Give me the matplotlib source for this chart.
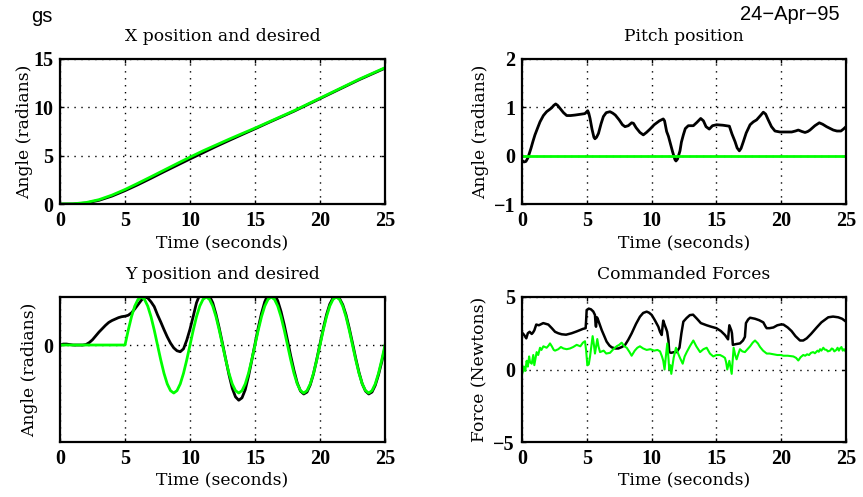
import numpy as np
import matplotlib
matplotlib.use("Agg")
import matplotlib.pyplot as plt

# ---------------- data ----------------
# X position (1 s samples)
x_t = list(range(0, 26))
x_desired = [0.0, 0.02, 0.15, 0.45, 0.92, 1.5, 2.15, 2.82, 3.5, 4.18, 4.85, 5.5, 6.1, 6.7,
             7.28, 7.85, 8.45, 9.05, 9.65, 10.3, 10.95, 11.6, 12.25, 12.9, 13.5, 14.1]
x_actual = [0.0, 0.0, 0.1, 0.38, 0.82, 1.38, 2.0, 2.66, 3.34, 4.0, 4.66, 5.3, 5.95, 6.57,
            7.18, 7.78, 8.4, 9.0, 9.6, 10.25, 10.9, 11.55, 12.2, 12.85, 13.45, 14.05]

# Pitch position
pitch_t = [0.0, 0.15, 0.3, 0.45, 0.69, 0.85, 1.0, 1.2, 1.39, 1.65, 1.9, 2.1, 2.29, 2.45,
           2.6, 2.75, 2.93, 3.2, 3.45, 3.75, 4.09, 4.6, 4.85, 5.0, 5.07, 5.15, 5.25, 5.4,
           5.55, 5.63, 5.75, 5.9, 6.1, 6.28, 6.5, 6.79, 7.0, 7.2, 7.5, 7.75, 7.95, 8.2,
           8.46, 8.6, 8.8, 9.1, 9.36, 9.6, 9.88, 10.2, 10.6, 10.9, 11.0, 11.16, 11.3,
           11.42, 11.62, 11.8, 11.88, 12.0, 12.19, 12.3, 12.45, 12.6, 12.83, 13.22, 13.5,
           13.79, 14.0, 14.2, 14.45, 14.7, 15.02, 15.5, 16.0, 16.2, 16.44, 16.6, 16.77,
           16.9, 17.08, 17.3, 17.6, 17.85, 18.1, 18.4, 18.62, 18.8, 19.0, 19.25, 19.52,
           19.9, 20.4, 20.81, 21.1, 21.32, 21.6, 21.84, 22.05, 22.22, 22.6, 22.94, 23.2,
           23.5, 24.02, 24.3, 24.61, 24.8, 25.0]
pitch_v = [-0.1, -0.13, -0.12, -0.05, 0.15, 0.3, 0.43, 0.57, 0.70, 0.83, 0.91, 0.95, 0.99,
           1.04, 1.07, 1.04, 0.98, 0.89, 0.83, 0.83, 0.84, 0.86, 0.87, 0.91, 0.93, 0.88,
           0.77, 0.55, 0.38, 0.35, 0.38, 0.46, 0.66, 0.81, 0.89, 0.91, 0.88, 0.84, 0.74,
           0.64, 0.60, 0.62, 0.68, 0.67, 0.58, 0.48, 0.43, 0.48, 0.55, 0.64, 0.72, 0.76,
           0.72, 0.50, 0.40, 0.28, 0.08, -0.08, -0.11, -0.07, 0.10, 0.28, 0.43, 0.56,
           0.62, 0.62, 0.69, 0.77, 0.72, 0.60, 0.55, 0.62, 0.64, 0.63, 0.61, 0.45, 0.29,
           0.16, 0.10, 0.15, 0.29, 0.47, 0.64, 0.70, 0.74, 0.83, 0.90, 0.86, 0.74, 0.60,
           0.51, 0.49, 0.49, 0.49, 0.51, 0.53, 0.50, 0.48, 0.50, 0.53, 0.62, 0.68, 0.65,
           0.60, 0.53, 0.51, 0.51, 0.55, 0.60]
pitch_desired = [0.0, 0.0]
pitch_desired_t = [0.0, 25.0]

# Y position (0.25 s samples)
y_t = [i * 0.25 for i in range(101)]
y_desired = [0.0] * 20 + [
    0.0, 0.31, 0.59, 0.81, 0.95, 1.0, 0.95, 0.81, 0.59, 0.31,
    0.0, -0.31, -0.59, -0.81, -0.95, -1.0, -0.95, -0.81, -0.59, -0.31] * 4 + [0.0]
y_actual = [0.0, 0.02, 0.02, 0.01, 0.0, 0.0, 0.0, 0.0,
            0.01, 0.05, 0.11, 0.19, 0.27, 0.34, 0.41, 0.47,
            0.51, 0.54, 0.57, 0.59, 0.60, 0.62, 0.67, 0.75,
            0.84, 0.93, 1.0, 0.98, 0.90, 0.80, 0.63, 0.48,
            0.32, 0.17, 0.04, -0.06, -0.12, -0.14, -0.08, 0.10,
            0.33, 0.60, 0.88, 1.05, 1.1, 1.1, 1.02, 0.88,
            0.64, 0.35, 0.03, -0.30, -0.62, -0.90, -1.08, -1.15,
            -1.10, -0.93, -0.65, -0.32, 0.02, 0.36, 0.66, 0.90,
            1.05, 1.1, 1.06, 0.92, 0.70, 0.42, 0.10, -0.23,
            -0.53, -0.79, -0.96, -1.02, -0.98, -0.83, -0.60, -0.30,
            0.02, 0.34, 0.63, 0.85, 0.98, 1.0, 0.97, 0.84,
            0.63, 0.35, 0.04, -0.28, -0.57, -0.81, -0.96, -1.02,
            -0.98, -0.84, -0.62, -0.35, -0.05]

# Commanded forces
f1_t = [0.0, 0.15, 0.33, 0.45, 0.59, 0.75, 0.85, 0.95, 1.1, 1.3, 1.64, 2.03, 2.3, 2.55,
        2.8, 3.06, 3.4, 3.83, 4.2, 4.48, 4.7, 4.91, 4.95, 4.99, 5.15, 5.32, 5.5, 5.63,
        5.68, 5.71, 5.78, 5.84, 6.0, 6.15, 6.35, 6.53, 6.75, 6.92, 7.2, 7.43, 7.7, 7.95,
        8.2, 8.46, 8.8, 9.1, 9.35, 9.62, 9.8, 10.01, 10.25, 10.52, 10.65, 10.78, 10.85,
        10.9, 11.0, 11.11, 11.2, 11.3, 11.36, 11.5, 11.75, 11.93, 12.15, 12.3, 12.45,
        12.7, 12.95, 13.2, 13.5, 13.8, 14.25, 14.6, 15.0, 15.35, 15.66, 15.9, 15.95,
        16.0, 16.15, 16.2, 16.27, 16.5, 16.82, 17.05, 17.2, 17.28, 17.45, 17.6, 17.98,
        18.3, 18.62, 18.8, 18.88, 19.1, 19.4, 19.7, 19.95, 20.17, 20.5, 20.8, 21.1,
        21.45, 21.7, 21.97, 22.3, 22.74, 23.1, 23.63, 24.0, 24.4, 24.7, 25.0]
f1_v = [2.55, 2.4, 2.15, 2.5, 2.6, 2.45, 2.55, 2.7, 3.1, 3.05, 3.2, 3.1, 2.85, 2.6,
        2.5, 2.43, 2.4, 2.5, 2.62, 2.72, 2.8, 2.85, 3.4, 4.1, 4.2, 4.15, 4.0, 3.76,
        3.1, 2.95, 3.6, 3.5, 3.1, 2.72, 2.3, 1.92, 1.65, 1.53, 1.45, 1.45, 1.55, 1.69,
        2.05, 2.49, 3.15, 3.64, 3.9, 3.99, 3.92, 3.76, 3.4, 2.95, 2.6, 2.38, 3.0,
        3.37, 3.1, 2.84, 2.6, 2.0, 1.2, 1.15, 1.2, 1.2, 1.5, 2.5, 3.3,
        3.55, 3.75, 3.78, 3.5, 3.2, 3.05, 2.95, 2.85, 2.65, 2.38, 2.08, 2.6,
        3.05, 2.7, 2.5, 1.7, 1.75, 1.8, 2.0, 2.25, 3.2, 3.45, 3.57, 3.5,
        3.4, 3.25, 2.95, 2.85, 2.85, 2.9, 3.05, 3.1, 3.1, 2.9, 2.65, 2.3,
        2.0, 2.0, 2.15, 2.45, 2.9, 3.25, 3.6, 3.65, 3.6, 3.5, 3.3]

f2_t = [0.0, 0.15, 0.25, 0.36, 0.45, 0.55, 0.62, 0.75, 0.87, 0.95, 1.05, 1.13, 1.25,
        1.39, 1.5, 1.65, 1.9, 2.05, 2.16, 2.3, 2.45, 2.55, 2.8, 3.0, 3.2, 3.45, 3.7,
        3.95, 4.22, 4.5, 4.7, 4.86, 4.95, 5.04, 5.15, 5.25, 5.35, 5.45, 5.55, 5.63,
        5.72, 5.81, 5.9, 6.02, 6.3, 6.5, 6.79, 7.05, 7.3, 7.5, 7.69, 7.9, 8.08, 8.3,
        8.46, 8.7, 8.9, 9.1, 9.35, 9.62, 9.9, 10.2, 10.45, 10.65, 10.8, 10.9, 11.0,
        11.1, 11.21, 11.3, 11.36, 11.45, 11.52, 11.6, 11.7, 11.8, 11.88, 12.0, 12.19,
        12.4, 12.55, 12.71, 12.95, 13.22, 13.45, 13.74, 14.0, 14.25, 14.5, 14.76,
        15.0, 15.28, 15.5, 15.66, 15.75, 15.84, 15.92, 16.0, 16.1, 16.18, 16.25,
        16.33, 16.45, 16.56, 16.7, 16.82, 17.0, 17.2, 17.4, 17.6, 17.8, 17.98, 18.2,
        18.37, 18.6, 18.88, 19.1, 19.4, 19.7, 20.0, 20.17, 20.5, 20.94, 21.15, 21.32,
        21.5, 21.7, 21.85, 22.0, 22.15, 22.3, 22.47, 22.6, 22.8, 22.9, 23.0, 23.1,
        23.25, 23.35, 23.5, 23.6, 23.77, 23.9, 24.0, 24.1, 24.25, 24.35, 24.45, 24.54,
        24.65, 24.75, 24.85, 25.0]
f2_v = [-0.35, 0.2, -0.1, 0.6, 0.2, 0.9, 0.5, 0.4, 1.0, 0.3, 0.8, 1.2, 1.0,
        1.5, 1.35, 1.6, 1.5, 1.65, 1.8, 1.6, 1.35, 1.3, 1.4, 1.55, 1.45, 1.4, 1.45,
        1.55, 1.7, 1.6, 1.85, 1.95, 1.3, 0.3, 0.35, 0.9, 1.6, 2.3, 1.7, 1.1,
        1.6, 2.1, 1.6, 1.2, 1.3, 1.1, 1.15, 1.4, 1.6, 1.7, 1.85, 1.6, 1.5, 1.2,
        0.95, 1.3, 1.5, 1.6, 1.45, 1.35, 1.4, 1.3, 1.35, 1.25, 0.9, 0.6, 0.0,
        0.9, 1.8, 0.8, 0.0, 0.3, -0.3, 0.2, 0.8, 1.2, 1.5, 1.2, 0.8,
        0.4, 0.9, 1.2, 1.6, 2.0, 1.6, 1.2, 1.4, 1.5, 1.1, 0.9,
        1.0, 1.0, 0.9, 0.8, 0.5, 0.0, 0.3, 0.6, 0.1, -0.3, 0.5,
        1.5, 1.0, 0.7, 1.1, 1.4, 1.25, 1.2, 1.4, 1.6, 1.85, 2.0, 1.8,
        1.55, 1.3, 1.1, 1.1, 1.05, 1.0, 1.0, 0.95, 0.95, 0.9, 0.8, 0.62,
        0.85, 1.0, 0.95, 1.05, 1.0, 1.15, 1.2, 1.12, 1.3, 1.22, 1.4, 1.3,
        1.5, 1.38, 1.35, 1.25, 1.3, 1.45, 1.4, 1.25, 1.35, 1.5, 1.3, 1.45,
        1.55, 1.3, 1.4, 1.2]

time_ticks = [0, 5, 10, 15, 20, 25]

GREEN = "#00ff00"
SERIF = "DejaVu Serif"
TICKFONT = "Liberation Serif"

fig = plt.figure(figsize=(8.63, 4.97), dpi=100)

W, H = 863.0, 497.0
def add_ax(x0, x1, y0, y1):
    return fig.add_axes([x0 / W, 1 - y1 / H, (x1 - x0) / W, (y1 - y0) / H])

ax1 = add_ax(60, 385, 59, 204)
ax2 = add_ax(522, 846, 59, 204)
ax3 = add_ax(60, 385, 297, 442)
ax4 = add_ax(522, 846, 297, 442)

def fmt(v):
    s = "%g" % v
    return s.replace("-", "\u2212")

def style(ax, title, ylabel, ylim, yticks, ylab_x, xlab_y):
    ax.set_xlim(0, 25)
    ax.set_ylim(*ylim)
    tk = dict(fontfamily=TICKFONT, fontweight="bold", fontsize=14.5)
    ax.set_xticks(time_ticks, labels=[fmt(v) for v in time_ticks], **tk)
    ax.set_yticks(yticks, labels=[fmt(v) for v in yticks], **tk)
    ax.grid(True, color="k", linestyle=(0, (1, 4)), linewidth=1.0)
    ax.tick_params(direction="in", length=3, width=1, top=True, right=True)
    ax.tick_params(axis="x", pad=5)
    ax.tick_params(axis="y", pad=5)
    for s in ax.spines.values():
        s.set_linewidth(1.6)
    ax.set_title(title, family=SERIF, fontsize=12.3, pad=13)
    ax.set_xlabel("Time (seconds)", family=SERIF, fontsize=12.3)
    ax.set_ylabel(ylabel, family=SERIF, fontsize=12.3)
    ax.yaxis.set_label_coords(ylab_x, 0.5)
    ax.xaxis.set_label_coords(0.5, xlab_y)

ax1.plot(x_t, x_actual, color="k", lw=2)
ax1.plot(x_t, x_desired, color=GREEN, lw=2)
style(ax1, "X position and desired", "Angle (radians)", (0, 15), [0, 5, 10, 15],
      -0.0815, -0.21)

ax2.plot(pitch_t, pitch_v, color="k", lw=2)
ax2.plot(pitch_desired_t, pitch_desired, color=GREEN, lw=2)
style(ax2, "Pitch position", "Angle (radians)", (-1, 2), [-1, 0, 1, 2],
      -0.1003, -0.21)

ax3.plot(y_t, y_actual, color="k", lw=2)
ax3.plot(y_t, y_desired, color=GREEN, lw=2)
style(ax3, "Y position and desired", "Angle (radians)", (-2.02, 1.0), [0],
      -0.066, -0.205)

ax4.plot(f1_t, f1_v, color="k", lw=1.8)
ax4.plot(f2_t, f2_v, color=GREEN, lw=1.5)
style(ax4, "Commanded Forces", "Force (Newtons)", (-5, 5), [-5, 0, 5],
      -0.1034, -0.205)

fig.text(31 / W, 1 - 16 / H, "gs", family="Liberation Sans", fontsize=14.5, va="center", ha="left")
fig.text(840 / W, 1 - 15 / H, "24\u2212Apr\u221295", family="Liberation Sans", fontsize=14.5,
         va="center", ha="right")

fig.savefig("out.png", dpi=100)
